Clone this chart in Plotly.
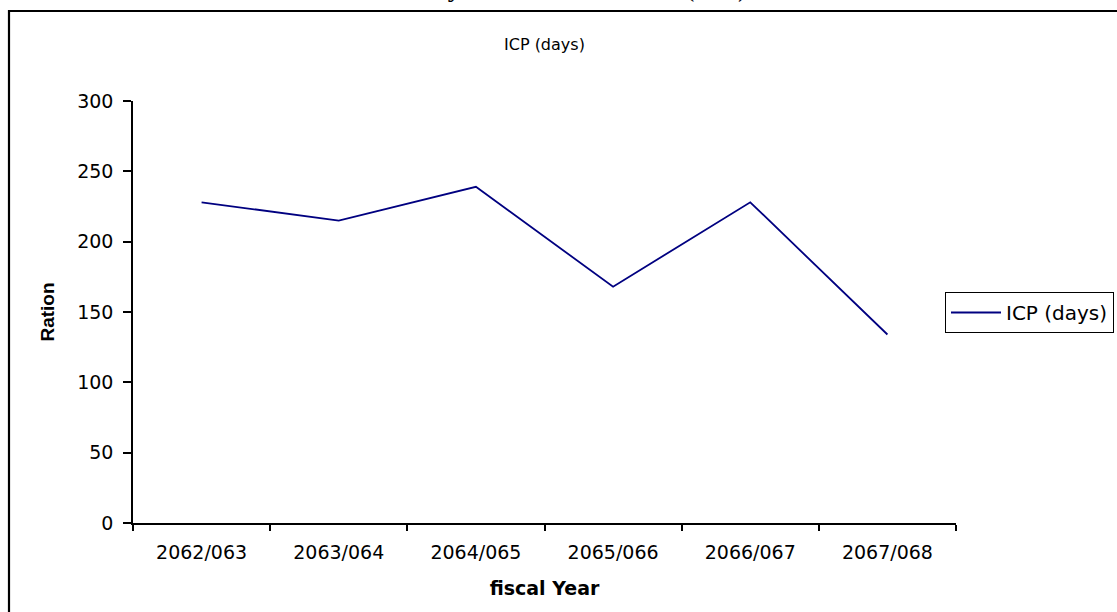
import plotly.graph_objects as go

# Fiscal years and inventory conversion period (days)
years = ["2062/063", "2063/064", "2064/065", "2065/066", "2066/067", "2067/068"]
icp_days = [228, 215, 239, 168, 228, 134]

series_name = "ICP (days)"
chart_title = "ICP (days)"
page_heading = "Inventory Conversion Period (ICP)"
x_title = "fiscal Year"
y_title = "Ration"
y_ticks = [0, 50, 100, 150, 200, 250, 300]

W, H = 1117, 612
L, R, T, B = 133, 161, 101, 89
plot_w = W - L - R
plot_h = H - T - B


def px_x(x):
    return (x - L) / plot_w


def px_y(y):
    return (H - B - y) / plot_h


fig = go.Figure()
fig.add_trace(go.Scatter(
    x=years, y=icp_days, name=series_name, mode="lines",
    line=dict(color="#000080", width=1.8),
    showlegend=True,
))

tick_font = dict(family="DejaVu Sans", size=19, color="black")

fig.update_layout(
    width=W, height=H, autosize=False,
    margin=dict(l=L, r=R, t=T, b=B, pad=0, autoexpand=False),
    paper_bgcolor="white", plot_bgcolor="white",
    showlegend=True,
    legend=dict(
        x=px_x(945), y=px_y(312.5), xanchor="left", yanchor="middle",
        bordercolor="black", borderwidth=1, bgcolor="white",
        font=dict(family="DejaVu Sans", size=20, color="black"),
        itemwidth=50,
    ),
    xaxis=dict(
        type="category", range=[-0.5, 5.5], tickson="boundaries",
        ticks="outside", ticklen=6, tickwidth=1.5, tickcolor="black",
        showline=True, linecolor="black", linewidth=1.5,
        showgrid=False, zeroline=False,
        tickfont=tick_font, ticklabelstandoff=11,
        title=dict(text=x_title, standoff=20,
                   font=dict(family="DejaVu Sans", size=19, color="black", weight="bold")),
    ),
    yaxis=dict(
        range=[0, 300], tickvals=y_ticks,
        ticks="outside", ticklen=8, tickwidth=1.5, tickcolor="black",
        showline=True, linecolor="black", linewidth=1.5,
        showgrid=False, zeroline=False,
        tickfont=tick_font, ticklabelstandoff=6,
        title=dict(text=y_title, standoff=18,
                   font=dict(family="Liberation Sans", size=19, color="black", weight="bold")),
    ),
    annotations=[
        dict(text=chart_title, xref="paper", yref="paper",
             x=px_x(544), y=px_y(45), xanchor="center", yanchor="middle",
             showarrow=False,
             font=dict(family="DejaVu Sans", size=16, color="black")),
        dict(text=page_heading, xref="paper", yref="paper",
             x=px_x(550), y=px_y(4), xanchor="center", yanchor="bottom",
             showarrow=False,
             font=dict(family="Liberation Serif", size=28, color="black")),
    ],
    shapes=[
        dict(type="rect", xref="paper", yref="paper",
             x0=px_x(9), x1=1.5, y0=-0.5, y1=px_y(11),
             line=dict(color="black", width=2.2), fillcolor="rgba(0,0,0,0)",
             layer="below"),
    ],
)

fig.write_html("out.html")
